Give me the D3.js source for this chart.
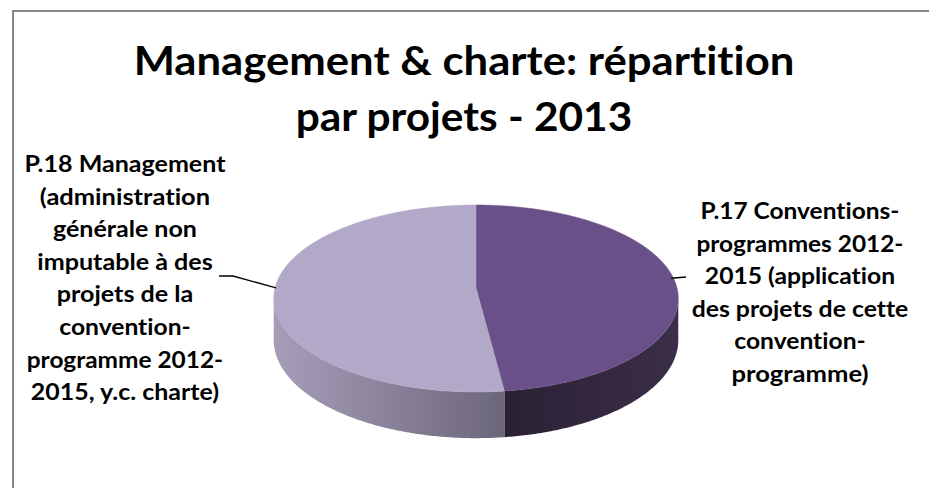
<!DOCTYPE html>
<html><head><meta charset="utf-8">
<script src="https://cdn.jsdelivr.net/npm/d3@7"></script>
<style>body{margin:0;background:#fff}svg{display:block}text{font-variant-ligatures:none;font-feature-settings:"liga" 0,"clig" 0}</style></head>
<body>
<svg id="c" width="929" height="488"></svg>
<script>
// ---- data ----
const titleLines = ["Management & charte: répartition", "par projets - 2013"];
const categories = ["P.17 Conventions-programmes 2012-2015", "P.18 Management"];
const values = [48, 52];
const labelLines = [
  ["P.17 Conventions-", "programmes 2012-", "2015 (application", "des projets de cette", "convention-", "programme)"],
  ["P.18 Management", "(administration", "générale non", "imputable à des", "projets de la", "convention-", "programme 2012-", "2015, y.c. charte)"]
];
const topColors = ["#6a5088", "#b2a9c8"];
const sideColors = [["#2b2134", "#3a2e48"], ["#a69eb9", "#6c667b"]];

// ---- layout ----
const svg = d3.select("#c");
const FONT = "Lato, 'Open Sans', sans-serif";
const cx = 476, cy0 = 288, R = 201, K = 92.3, q = 0.1123, depth = 41;

// approximate advance widths (em) of a bold humanist face, used to set line lengths
const adv = {" ":0.226,"(":0.312,")":0.312,".":0.267,",":0.258,"-":0.306,":":0.276,"&":0.705,
  "P":0.532,"C":0.529,"M":0.874,"a":0.494,"b":0.537,"c":0.418,"d":0.537,"e":0.503,"g":0.474,
  "h":0.537,"i":0.246,"j":0.255,"l":0.246,"m":0.813,"n":0.537,"o":0.538,"p":0.537,"r":0.355,
  "s":0.399,"t":0.347,"u":0.537,"v":0.474,"y":0.474,"é":0.503,"à":0.494};
const emWidth = s => Array.from(s).reduce((w, ch) => w + (adv[ch] !== undefined ? adv[ch] : (/[0-9]/.test(ch) ? 0.507 : 0.5)), 0);

function proj(theta, r, z) {
  const d = 1 + q * r * Math.cos(theta);
  return [cx + R * r * Math.sin(theta) / d, cy0 - K * r * Math.cos(theta) / d + z * depth / d];
}

// border
svg.append("path").attr("d", "M13,488V11H929").attr("fill", "none")
  .attr("stroke", "#878787").attr("stroke-width", 2);

// title
svg.append("g").selectAll("text").data(titleLines).join("text")
  .attr("text-anchor", "middle").attr("font-family", FONT)
  .attr("font-weight", "bold").attr("font-size", 41).attr("fill", "#000")
  .attr("x", 464).attr("y", (d, i) => 75 + i * 56).text(d => d)
  .attr("textLength", d => emWidth(d) * 45.9).attr("lengthAdjust", "spacingAndGlyphs");

// pie
const pie = d3.pie().sort(null).startAngle(0).endAngle(2 * Math.PI);
const arcs = pie(values);
const angle = d3.scaleLinear().domain([0, 1]);
const line = d3.line();
const defs = svg.append("defs");
sideColors.forEach((c, i) => {
  const g = defs.append("linearGradient").attr("id", "side" + i).attr("gradientUnits", "userSpaceOnUse")
    .attr("x1", i === 1 ? 275 : 505).attr("x2", i === 1 ? 505 : 677).attr("y1", 0).attr("y2", 0);
  g.append("stop").attr("offset", 0).attr("stop-color", c[0]);
  g.append("stop").attr("offset", 1).attr("stop-color", c[1]);
});

const s0 = Math.acos(-q), s1 = 2 * Math.PI - s0;
function arcPts(a0, a1, z) {
  const n = Math.max(2, Math.ceil((a1 - a0) / 0.01));
  return d3.range(n + 1).map(k => proj(angle.range([a0, a1])(k / n), 1, z));
}
// sides
arcs.forEach((a, i) => {
  const b0 = Math.max(a.startAngle, s0), b1 = Math.min(a.endAngle, s1);
  if (b1 <= b0) return;
  const pts = arcPts(b0, b1, 0).concat(arcPts(b0, b1, 1).reverse());
  svg.append("path").attr("d", line(pts) + "Z").attr("fill", `url(#side${i})`);
});
// tops
arcs.forEach((a, i) => {
  const pts = [proj(0, 0, 0)].concat(arcPts(a.startAngle, a.endAngle, 0));
  svg.append("path").attr("d", line(pts) + "Z").attr("fill", topColors[i])
    .attr("stroke", topColors[i]).attr("stroke-width", 0.5);
});

// leader lines
const mid = arcs.map(a => proj((a.startAngle + a.endAngle) / 2, 1, 0));
svg.append("path").attr("d", line([[mid[0][0] - 4, mid[0][1] - 4], [686, 277]]))
  .attr("fill", "none").attr("stroke", "#000").attr("stroke-width", 1.3);
svg.append("path").attr("d", line([[mid[1][0] + 2, mid[1][1] - 6], [233, 276], [219, 276]]))
  .attr("fill", "none").attr("stroke", "#000").attr("stroke-width", 1.3);

// labels
const labelPos = [{x: 800, y: 219}, {x: 125, y: 172}];
labelLines.forEach((lines, i) => {
  svg.append("g").selectAll("text").data(lines).join("text")
    .attr("text-anchor", "middle").attr("font-family", FONT)
    .attr("font-weight", "bold").attr("font-size", 23.5).attr("fill", "#000")
    .attr("x", labelPos[i].x).attr("y", (d, k) => labelPos[i].y + k * 32.6).text(d => d)
    .attr("textLength", d => emWidth(d) * 26.4).attr("lengthAdjust", "spacingAndGlyphs");
});
</script>
</body></html>
